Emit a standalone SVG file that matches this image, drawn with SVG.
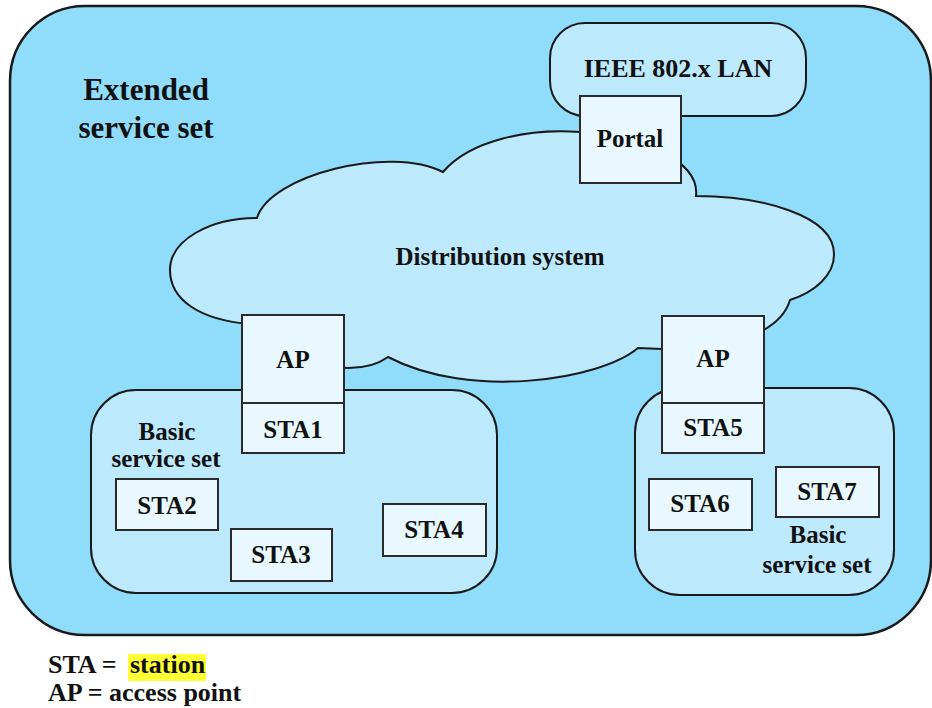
<svg xmlns="http://www.w3.org/2000/svg" width="932" height="708" viewBox="0 0 932 708">
<style>
text{font-family:"Liberation Serif","Times New Roman",serif;font-weight:bold;fill:#111;text-anchor:middle;font-size:25px}
.outer{fill:#90dcfb;stroke:#1a1a1a;stroke-width:2.5}
.mid{fill:#bde9fc;stroke:#1a1a1a;stroke-width:2}
.box{fill:#e8f8fe;stroke:#2a2a2a;stroke-width:2}
.big{font-size:31px}
.leg{font-size:26px;text-anchor:start}
</style>
<rect width="932" height="708" fill="#ffffff"/>
<g id="ess">
<rect class="outer" x="10" y="6" width="921" height="629" rx="75" ry="75"/>
<text class="big" x="146" y="100">Extended</text>
<text class="big" x="146" y="138">service set</text>
</g>
<g id="lan">
<rect class="mid" x="550" y="23" width="256" height="93" rx="35" ry="35"/>
<text x="678" y="77" style="font-size:26px">IEEE 802.x LAN</text>
</g>
<g id="ds">
<path class="mid" d="M 250,324 C 200,320 170,300 170,270 C 170,240 210,218 257,218 C 270,175 390,145 443,172 C 470,140 530,128 580,132 C 640,136 700,160 696,196 C 760,196 835,215 834,255 C 834,275 815,292 790,300 C 780,335 720,352 662,349 L 638,348 C 600,380 470,400 388,357 C 370,370 330,375 300,352 C 280,338 265,328 250,324 Z"/>
<text x="500" y="265">Distribution system</text>
</g>
<g id="bss1">
<rect class="mid" x="91" y="390" width="406" height="203" rx="45" ry="45"/>
<text x="167" y="440">Basic</text>
<text x="166" y="467">service set</text>
</g>
<g id="bss2">
<rect class="mid" x="635" y="388" width="259" height="207" rx="45" ry="45"/>
<text x="818" y="543">Basic</text>
<text x="817" y="573">service set</text>
</g>
<g id="portal">
<rect class="box" x="580" y="96" width="101" height="87"/>
<text x="630" y="147">Portal</text>
</g>
<g id="ap1">
<rect class="box" x="242" y="315" width="102" height="88"/>
<text x="293" y="368">AP</text>
</g>
<g id="sta1">
<rect class="box" x="242" y="403" width="102" height="50"/>
<text x="293" y="438">STA1</text>
</g>
<g id="sta2">
<rect class="box" x="116" y="479" width="102" height="51"/>
<text x="167" y="514">STA2</text>
</g>
<g id="sta3">
<rect class="box" x="231" y="529" width="101" height="52"/>
<text x="281" y="563">STA3</text>
</g>
<g id="sta4">
<rect class="box" x="383" y="504" width="103" height="52"/>
<text x="434" y="538">STA4</text>
</g>
<g id="ap2">
<rect class="box" x="662" y="316" width="102" height="87"/>
<text x="713" y="367">AP</text>
</g>
<g id="sta5">
<rect class="box" x="662" y="403" width="102" height="50"/>
<text x="713" y="436">STA5</text>
</g>
<g id="sta6">
<rect class="box" x="649" y="479" width="103" height="51"/>
<text x="700" y="512">STA6</text>
</g>
<g id="sta7">
<rect class="box" x="776" y="467" width="103" height="50"/>
<text x="827" y="500">STA7</text>
</g>
<g id="connectors"></g>
<g id="legend">
<rect x="128" y="654" width="78" height="27" fill="#ffff33"/>
<text class="leg" x="48" y="673">STA =</text>
<text class="leg" x="130" y="673">station</text>
<text class="leg" x="48" y="701">AP = access point</text>
</g>
</svg>
